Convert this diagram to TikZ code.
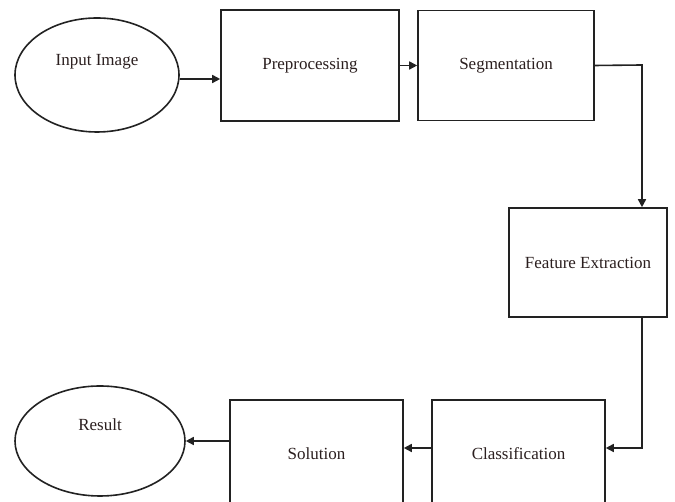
\documentclass[tikz,border=0pt]{standalone}
\usepackage{fontspec}
\setmainfont{Liberation Serif}
\usetikzlibrary{shapes.geometric,arrows.meta}
\definecolor{ink}{HTML}{222222}
\definecolor{txt}{HTML}{2B1F1F}
\begin{document}
\begin{tikzpicture}[x=1pt,y=1pt,
  stage/.style={draw=ink,line width=1.6pt,rectangle,fill=white,text=txt,font=\fontsize{17}{20}\selectfont},
  term/.style={draw=ink,line width=1.6pt,ellipse,fill=white,inner sep=0pt},
  tlabel/.style={text=txt,font=\fontsize{17}{20}\selectfont},
  flow/.style={draw=ink,line width=1.6pt,-{Triangle[length=8pt,width=8pt]}}]
\path[fill=white] (0,0) rectangle (675,502);
\clip (0,0) rectangle (675,502);
\useasboundingbox (0,0) rectangle (675,502);
% nodes
\node[term,minimum width=164pt,minimum height=114pt] (in) at (97,427) {};
\node[tlabel] (inl) at (97,440) {Input Image};
\node[stage,minimum width=178pt,minimum height=111pt] (prep) at (310,436.5) {Preprocessing};
\node[stage,minimum width=176pt,minimum height=110pt] (seg) at (506,436.5) {Segmentation};
\node[stage,minimum width=158pt,minimum height=109pt] (feat) at (588,239.5) {Feature Extraction};
\node[stage,minimum width=173pt,minimum height=108pt] (cls) at (518.5,48) {Classification};
\node[stage,minimum width=173pt,minimum height=108pt] (sol) at (316.5,48) {Solution};
\node[term,minimum width=170pt,minimum height=110pt] (res) at (100,61) {};
\node[tlabel] (resl) at (100,77) {Result};
% connectors
\coordinate (c1) at (642,437);
\coordinate (c2) at (642,54);
\draw[flow] ([yshift=-4pt]in.east) -- ([yshift=-4pt]in.east -| prep.west);
\draw[flow] (prep.east) -- (seg.west);
\draw[flow] (seg.east) -- (c1) -- (c1 |- feat.north);
\draw[flow] (c2 |- feat.south) -- (c2) -- (c2 -| cls.east);
\draw[flow] (c2 -| cls.west) -- (c2 -| sol.east);
\draw[flow] (sol.west |- res.east) -- (res.east);
\end{tikzpicture}
\end{document}
